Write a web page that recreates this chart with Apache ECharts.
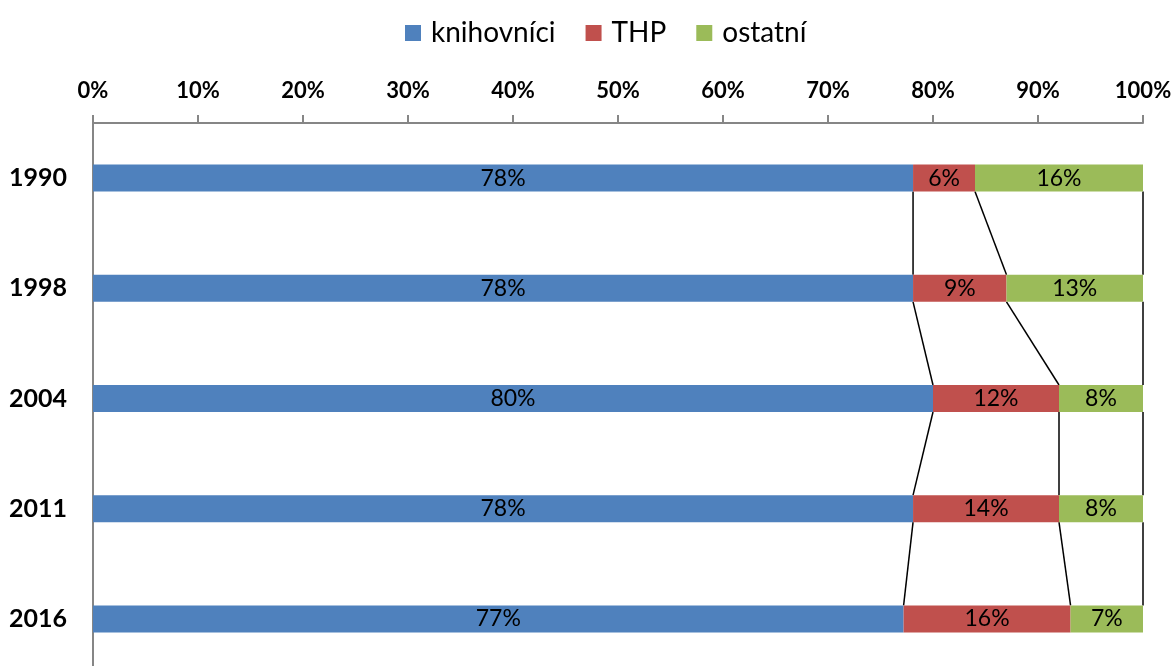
<!DOCTYPE html>
<html>
<head>
<meta charset="utf-8">
<script src="https://cdn.jsdelivr.net/npm/echarts@6/dist/echarts.min.js"></script>
<style>
  html, body { margin: 0; padding: 0; background: #fff; overflow: hidden; }
  #chart { width: 1176px; height: 700px; }
</style>
</head>
<body>
<div id="chart"></div>
<script>
const years = ['1990', '1998', '2004', '2011', '2016'];
const knihovnici = [78.1, 78.1, 80.0, 78.1, 77.2];
const thp = [5.9, 8.9, 12.0, 13.9, 15.9];
const ostatni = [16.0, 13.0, 8.0, 8.0, 6.9];
const xTicks = [0, 10, 20, 30, 40, 50, 60, 70, 80, 90, 100];

const FONT = 'Lato';
const BAR_W = 27;

// cumulative boundaries for the series lines
const bounds = [
  knihovnici,
  knihovnici.map((v, i) => v + thp[i]),
  knihovnici.map((v, i) => v + thp[i] + ostatni[i])
];
const lineData = [];
bounds.forEach(b => {
  for (let i = 0; i < years.length - 1; i++) {
    lineData.push([b[i], i, b[i + 1], i + 1]);
  }
});

const chart = echarts.init(document.getElementById('chart'));

function barSeries(name, data, color) {
  return {
    name: name,
    type: 'bar',
    stack: 'total',
    barWidth: BAR_W,
    data: data,
    itemStyle: { color: color },
    label: {
      show: true,
      position: 'inside',
      color: '#000',
      fontFamily: FONT,
      fontSize: 23,
      formatter: p => Math.round(p.value) + '%'
    }
  };
}

chart.setOption({
  animation: false,
  legend: {
    top: 14,
    left: 400,
    itemWidth: 16,
    itemHeight: 16,
    itemGap: 30,
    icon: 'rect',
    data: ['knihovníci', 'THP', 'ostatní'],
    textStyle: { fontFamily: FONT, fontSize: 28, color: '#000', padding: [0, 0, 0, 5] }
  },
  grid: { left: 93, right: 33, top: 123, height: 551 },
  xAxis: {
    type: 'value',
    position: 'top',
    min: 0,
    max: 100,
    interval: 10,
    axisLine: { show: true, lineStyle: { color: '#868686', width: 2 } },
    axisTick: { show: true, length: 8, lineStyle: { color: '#868686', width: 2 } },
    splitLine: { show: false },
    axisLabel: {
      margin: 21,
      fontFamily: FONT,
      fontWeight: 'bold',
      fontSize: 22,
      color: '#000',
      formatter: v => xTicks.includes(v) ? v + '%' : ''
    }
  },
  yAxis: {
    type: 'category',
    inverse: true,
    data: years,
    axisLine: { show: true, lineStyle: { color: '#868686', width: 2 } },
    axisTick: { show: false },
    axisLabel: {
      margin: 26,
      fontFamily: FONT,
      fontWeight: 'bold',
      fontSize: 25,
      color: '#000'
    }
  },
  series: [
    barSeries('knihovníci', knihovnici, '#4F81BD'),
    barSeries('THP', thp, '#C0504D'),
    barSeries('ostatní', ostatni, '#9BBB59'),
    {
      type: 'custom',
      silent: true,
      data: lineData,
      encode: { x: 0, y: 1 },
      renderItem: (params, api) => {
        const p0 = api.coord([api.value(0), api.value(1)]);
        const p1 = api.coord([api.value(2), api.value(3)]);
        return {
          type: 'line',
          shape: { x1: p0[0], y1: p0[1] + BAR_W / 2, x2: p1[0], y2: p1[1] - BAR_W / 2 },
          style: { stroke: '#000', lineWidth: 1.5 }
        };
      }
    }
  ]
});
</script>
</body>
</html>
